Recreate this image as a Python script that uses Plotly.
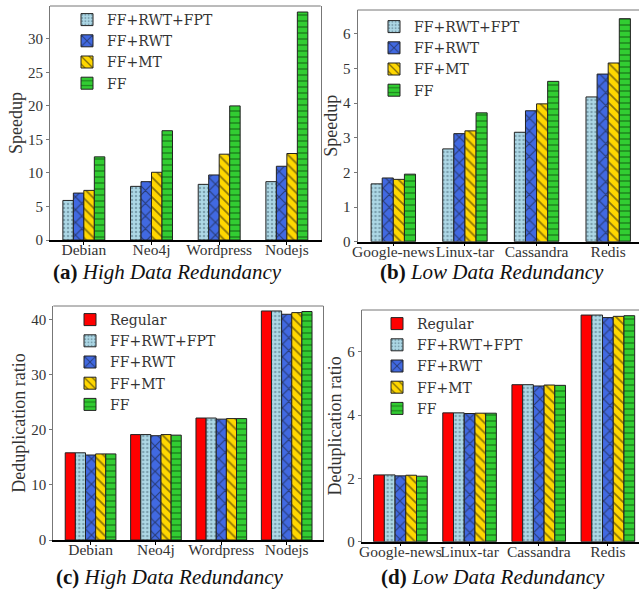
import plotly.graph_objects as go

# ---------------- data ----------------
high_categories = ["Debian", "Neo4j", "Wordpress", "Nodejs"]
low_categories = ["Google-news", "Linux-tar", "Cassandra", "Redis"]

# (a) speedup, high redundancy
speed_high_fpt = [5.9, 8.0, 8.3, 8.7]
speed_high_rwt = [7.0, 8.7, 9.7, 11.0]
speed_high_mt = [7.4, 10.1, 12.8, 12.9]
speed_high_ff = [12.4, 16.3, 20.0, 34.0]

# (b) speedup, low redundancy
speed_low_fpt = [1.67, 2.68, 3.16, 4.18]
speed_low_rwt = [1.84, 3.12, 3.78, 4.84]
speed_low_mt = [1.80, 3.20, 3.98, 5.16]
speed_low_ff = [1.95, 3.72, 4.63, 6.44]

# (c) dedup ratio, high redundancy
dedup_high_regular = [15.8, 19.1, 22.1, 41.5]
dedup_high_fpt = [15.8, 19.1, 22.1, 41.5]
dedup_high_rwt = [15.4, 18.9, 21.9, 40.9]
dedup_high_mt = [15.6, 19.1, 22.0, 41.2]
dedup_high_ff = [15.6, 19.0, 22.0, 41.4]

# (d) dedup ratio, low redundancy
dedup_low_regular = [2.11, 4.07, 4.96, 7.16]
dedup_low_fpt = [2.11, 4.07, 4.96, 7.16]
dedup_low_rwt = [2.08, 4.05, 4.92, 7.08]
dedup_low_mt = [2.10, 4.06, 4.95, 7.12]
dedup_low_ff = [2.07, 4.06, 4.94, 7.14]

series_names = ["Regular", "FF+RWT+FPT", "FF+RWT", "FF+MT", "FF"]

speed_yticks_high = [0, 5, 10, 15, 20, 25, 30]
speed_yticks_low = [0, 1, 2, 3, 4, 5, 6]
dedup_yticks_high = [0, 10, 20, 30, 40]
dedup_yticks_low = [0, 2, 4, 6]

# ---------------- styles ----------------
STYLE = {
    "Regular": dict(color="#ff0000", shape="", fg="#000000", size=8),
    "FF+RWT+FPT": dict(color="#add8e6", shape=".", fg="#4a6a7a", size=4),
    "FF+RWT": dict(color="#4169e1", shape="x", fg="#111111", size=9),
    "FF+MT": dict(color="#ffd700", shape="\\", fg="#111111", size=7),
    "FF": dict(color="#32cd32", shape="-", fg="#0a3a0a", size=6),
}

W, H = 639, 602
SERIF = "Liberation Serif"
LEGSERIF = "DejaVu Serif"

fig = go.Figure()


def px_x(a, b):
    return [a / W, min(b / W, 1.0)]


def px_y(top, bottom):
    return [1 - bottom / H, 1 - top / H]


panels = [
    dict(ax="", cats=high_categories,
         series=[("FF+RWT+FPT", speed_high_fpt), ("FF+RWT", speed_high_rwt),
                 ("FF+MT", speed_high_mt), ("FF", speed_high_ff)],
         xd=(50, 320.7), yd=(6, 240), xr=[-0.5, 3.5], yr=[0, 34.9],
         yt=speed_yticks_high, title="Speedup", leg="legend", lx=67, ly=4),
    dict(ax="2", cats=low_categories,
         series=[("FF+RWT+FPT", speed_low_fpt), ("FF+RWT", speed_low_rwt),
                 ("FF+MT", speed_low_mt), ("FF", speed_low_ff)],
         xd=(357.5, 639), yd=(10, 241.7), xr=[-0.5, 3.43], yr=[0, 6.69],
         yt=speed_yticks_low, title="Speedup", leg="legend2", lx=374, ly=11),
    dict(ax="3", cats=high_categories,
         series=[("Regular", dedup_high_regular), ("FF+RWT+FPT", dedup_high_fpt),
                 ("FF+RWT", dedup_high_rwt), ("FF+MT", dedup_high_mt), ("FF", dedup_high_ff)],
         xd=(53.3, 323.3), yd=(306, 540), xr=[-0.57, 3.56], yr=[0, 42.4],
         yt=dedup_yticks_high, title="Deduplication ratio", leg="legend3", lx=70, ly=304),
    dict(ax="4", cats=low_categories,
         series=[("Regular", dedup_low_regular), ("FF+RWT+FPT", dedup_low_fpt),
                 ("FF+RWT", dedup_low_rwt), ("FF+MT", dedup_low_mt), ("FF", dedup_low_ff)],
         xd=(361.7, 639), yd=(310, 541.7), xr=[-0.56, 3.45], yr=[0, 7.32],
         yt=dedup_yticks_low, title="Deduplication ratio", leg="legend4", lx=377, ly=308),
]

for p in panels:
    n = len(p["series"])
    bw = 0.155
    xs = list(range(len(p["cats"])))
    for i, (name, vals) in enumerate(p["series"]):
        st = STYLE[name]
        off = (i - n / 2) * bw
        fig.add_trace(go.Bar(
            x=xs, y=vals, name=name,
            xaxis="x" + p["ax"], yaxis="y" + p["ax"],
            width=bw, offset=off,
            marker=dict(color=st["color"],
                        line=dict(color="#222222", width=1),
                        pattern=dict(shape=st["shape"], fgcolor=st["fg"],
                                     size=st["size"], solidity=0.3 if st["shape"] == "." else 0.25)),
            legend=p["leg"],
            showlegend=True,
        ))
    xa = "xaxis" + p["ax"]
    ya = "yaxis" + p["ax"]
    fig.update_layout(**{
        xa: dict(domain=px_x(*p["xd"]), range=p["xr"], anchor="y" + p["ax"],
                 tickmode="array", tickvals=xs, ticktext=p["cats"],
                 showline=True, linecolor="#000000", linewidth=1.5,
                 ticks="outside", ticklen=3, tickcolor="#000000",
                 showgrid=False, zeroline=False, automargin=False, tickangle=0,
                 ticklabelstandoff=-8,
                 tickfont=dict(family=SERIF, size=15.5, color="#333333")),
        ya: dict(domain=px_y(*p["yd"]), range=p["yr"], anchor="x" + p["ax"],
                 tickmode="array", tickvals=p["yt"],
                 showline=True, linecolor="#777777", linewidth=1, mirror=True,
                 ticks="outside", ticklen=3, tickcolor="#777777",
                 showgrid=False, zeroline=False, automargin=False,
                 tickfont=dict(family=SERIF, size=15, color="#333333"),
                 title=dict(text=p["title"], standoff=0,
                            font=dict(family=SERIF, size=18, color="#333333"))),
        p["leg"]: dict(x=p["lx"] / W, y=1 - p["ly"] / H, xanchor="left", yanchor="top",
                       bgcolor="rgba(0,0,0,0)",
                       font=dict(family=LEGSERIF, size=14, color="#333333")),
    })
    fig.add_shape(type="line", xref="x" + p["ax"] + " domain", yref="y" + p["ax"] + " domain",
                  x0=0, x1=1, y0=1, y1=1, line=dict(color="#777777", width=1))

captions = [
    ("<b>(a)</b> <i>High Data Redundancy</i>", 167, 272),
    ("<b>(b)</b> <i>Low Data Redundancy</i>", 492, 272),
    ("<b>(c)</b> <i>High Data Redundancy</i>", 170, 577),
    ("<b>(d)</b> <i>Low Data Redundancy</i>", 493, 577),
]
for text, cx, cy in captions:
    fig.add_annotation(text=text, x=cx / W, y=1 - cy / H, xref="paper", yref="paper",
                       xanchor="center", yanchor="middle", showarrow=False,
                       font=dict(family=SERIF, size=21, color="#111111"))

fig.update_layout(
    width=W, height=H,
    margin=dict(l=0, r=0, t=0, b=0, autoexpand=False),
    paper_bgcolor="white", plot_bgcolor="white",
    barmode="overlay",
    showlegend=True,
    font=dict(family=SERIF, color="#333333"),
)

fig.write_html("out.html", config={"displayModeBar": False},
               post_script="document.body.style.margin='0';document.body.style.padding='0';")
